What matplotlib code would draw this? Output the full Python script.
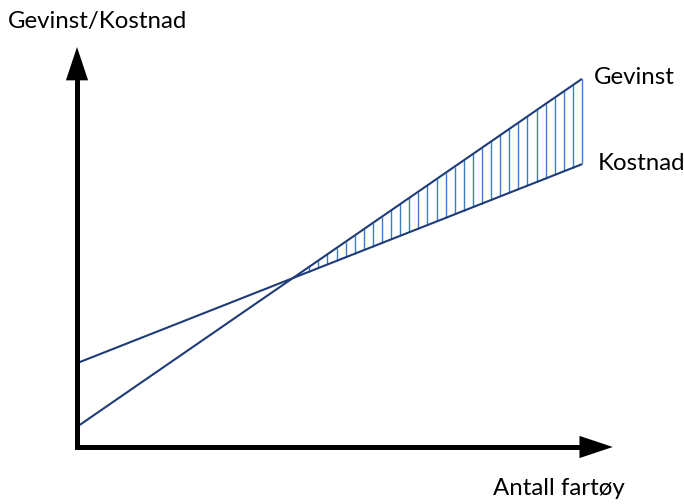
import numpy as np
import matplotlib
matplotlib.use("Agg")
import matplotlib.pyplot as plt

# ---- data (conceptual units) ----
x_vals = [0.0, 10.0]
gevinst = [0.40, 7.29]
kostnad = [1.66, 5.60]
x_axis_end = 10.61
y_axis_end = 7.92
labels = {"y": "Gevinst/Kostnad", "x": "Antall fartøy",
          "gevinst": "Gevinst", "kostnad": "Kostnad"}

plt.rcParams['font.family'] = ['Lato', 'DejaVu Sans']

fig = plt.figure(figsize=(6.84, 5.04), dpi=100)
ax = fig.add_axes([0, 0, 1, 1])
ax.set_xlim(-1.525, 12.02)
ax.set_ylim(-1.129, 8.851)
ax.axis('off')

line_col = '#1f3c78'
hatch_col = '#3b7dc6'

# hatch lines between the two lines where gevinst > kostnad
slope_g = (gevinst[1] - gevinst[0]) / (x_vals[1] - x_vals[0])
slope_k = (kostnad[1] - kostnad[0]) / (x_vals[1] - x_vals[0])
x_cross = (kostnad[0] - gevinst[0]) / (slope_g - slope_k)
hx = np.arange(x_vals[1], x_cross, -0.18)
ax.vlines(hx, np.interp(hx, x_vals, kostnad), np.interp(hx, x_vals, gevinst),
          colors=hatch_col, lw=1.0, zorder=2)

ax.plot(x_vals, gevinst, color=line_col, lw=1.5, zorder=3, solid_capstyle='butt')
ax.plot(x_vals, kostnad, color=line_col, lw=1.5, zorder=3, solid_capstyle='butt')

# axes arrows
hl, hw = 0.66, 0.22
ax.plot([0, 0], [0, y_axis_end - hl], color='black', lw=3.6, zorder=4, solid_capstyle='projecting')
ax.plot([0, x_axis_end - hl], [0, 0], color='black', lw=3.6, zorder=4, solid_capstyle='projecting')
ax.fill([-hw, hw, 0], [y_axis_end - hl, y_axis_end - hl, y_axis_end], color='black', zorder=5, lw=0)
ax.fill([x_axis_end - hl, x_axis_end - hl, x_axis_end], [-hw, hw, 0], color='black', zorder=5, lw=0)

fs = 17.3
ax.text(-1.36, 8.30, labels["y"], fontsize=fs, ha='left', va='baseline')
ax.text(8.24, -0.95, labels["x"], fontsize=fs, ha='left', va='baseline')
ax.text(10.23, 7.18, labels["gevinst"], fontsize=fs, ha='left', va='baseline')
ax.text(10.31, 5.485, labels["kostnad"], fontsize=fs, ha='left', va='baseline')

fig.savefig('out.png', dpi=100)
